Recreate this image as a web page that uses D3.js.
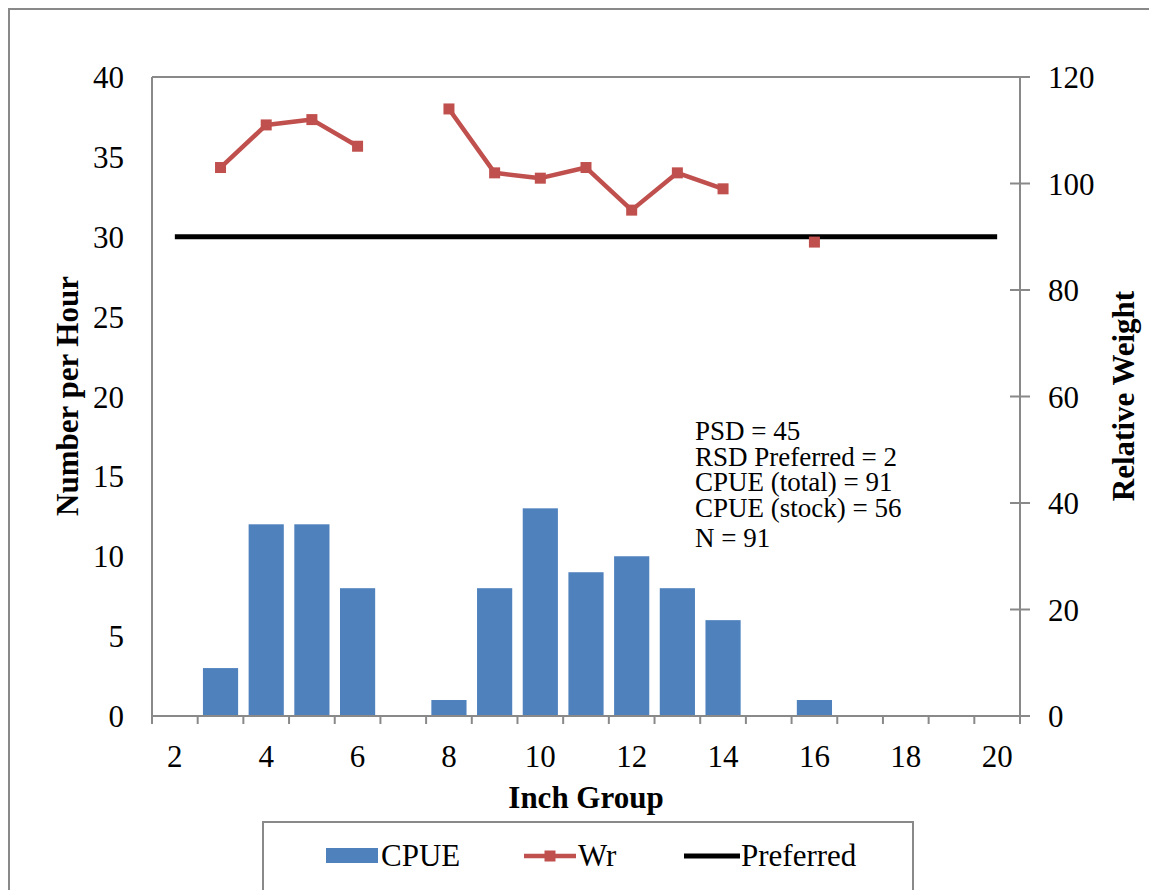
<!DOCTYPE html>
<html>
<head>
<meta charset="utf-8">
<script src="https://cdn.jsdelivr.net/npm/d3@7"></script>
<style>
  body { margin: 0; background: #fff; }
  svg { font-family: "Liberation Serif", "Times New Roman", serif; }
</style>
</head>
<body>
<div id="chart"></div>
<script>
const groups = d3.range(2, 21);
const cpue = [null, 3, 12, 12, 8, null, 1, 8, 13, 9, 10, 8, 6, null, 1, null, null, null, null];
const wr = [null, 103, 111, 112, 107, null, 114, 102, 101, 103, 95, 102, 99, null, 89, null, null, null, null];
const preferred = 30;
const leftTicks = d3.range(0, 41, 5);
const rightTicks = d3.range(0, 121, 20);
const xTickLabels = [2, 4, 6, 8, 10, 12, 14, 16, 18, 20];
const notes = ['PSD = 45', 'RSD Preferred = 2', 'CPUE (total) = 91', 'CPUE (stock) = 56', 'N = 91'];

const W = 1149, H = 890;
const pl = 152, pr = 1020, pt = 77, pb = 716;
const axisCol = '#898989', barCol = '#4F81BD', wrCol = '#C0504D';
const fs = 31;

const svg = d3.select('#chart').append('svg').attr('width', W).attr('height', H);

// outer frame
svg.append('rect').attr('x', 9).attr('y', 9).attr('width', W + 20).attr('height', H + 20)
  .attr('fill', 'none').attr('stroke', axisCol).attr('stroke-width', 2);

const x = d3.scaleBand().domain(groups).range([pl, pr]).paddingInner(0.23).paddingOuter(0.115);
const step = x.step();
const cx = g => pl + (groups.indexOf(g) + 0.5) * step;
const yL = d3.scaleLinear().domain([0, 40]).range([pb, pt]);
const yR = d3.scaleLinear().domain([0, 120]).range([pb, pt]);

// plot border: top + left + right
svg.append('line').attr('x1', pl).attr('x2', pr + 10).attr('y1', pt).attr('y2', pt).attr('stroke', axisCol).attr('stroke-width', 2);
svg.append('line').attr('x1', pl).attr('x2', pl).attr('y1', pt).attr('y2', pb).attr('stroke', axisCol).attr('stroke-width', 2);
svg.append('line').attr('x1', pr).attr('x2', pr).attr('y1', pt).attr('y2', pb + 8).attr('stroke', axisCol).attr('stroke-width', 2);

// bars
groups.forEach((g, i) => {
  if (cpue[i] == null) return;
  svg.append('rect').attr('x', x(g)).attr('y', yL(cpue[i]))
    .attr('width', x.bandwidth()).attr('height', yL(0) - yL(cpue[i])).attr('fill', barCol);
});

// x axis
svg.append('line').attr('x1', pl).attr('x2', pr).attr('y1', pb).attr('y2', pb).attr('stroke', axisCol).attr('stroke-width', 2);
d3.range(groups.length + 1).forEach(k => {
  svg.append('line').attr('x1', pl + k * step).attr('x2', pl + k * step).attr('y1', pb).attr('y2', pb + 8)
    .attr('stroke', axisCol).attr('stroke-width', 2);
});
xTickLabels.forEach(v => {
  svg.append('text').attr('x', cx(v)).attr('y', 767).attr('text-anchor', 'middle')
    .attr('font-size', fs).attr('fill', '#000').text(v);
});

// left axis labels
leftTicks.forEach(v => {
  svg.append('text').attr('x', 124).attr('y', yL(v) + 11).attr('text-anchor', 'end')
    .attr('font-size', fs).attr('fill', '#000').text(v);
});

// right axis ticks + labels
rightTicks.forEach(v => {
  svg.append('line').attr('x1', v === 120 ? pr : pr - 10).attr('x2', pr + 10).attr('y1', yR(v)).attr('y2', yR(v))
    .attr('stroke', axisCol).attr('stroke-width', 2);
  svg.append('text').attr('x', 1048).attr('y', yR(v) + 11).attr('text-anchor', 'start')
    .attr('font-size', fs).attr('fill', '#000').text(v);
});

// preferred line
svg.append('line').attr('x1', cx(2)).attr('x2', cx(20)).attr('y1', yL(preferred)).attr('y2', yL(preferred))
  .attr('stroke', '#000').attr('stroke-width', 5);

// Wr line
const wrPts = groups.map((g, i) => ({ g, v: wr[i] }));
svg.append('path').datum(wrPts)
  .attr('d', d3.line().defined(d => d.v != null).x(d => cx(d.g)).y(d => yR(d.v)))
  .attr('fill', 'none').attr('stroke', wrCol).attr('stroke-width', 4.5).attr('stroke-linejoin', 'round');
wrPts.filter(d => d.v != null).forEach(d => {
  svg.append('rect').attr('x', cx(d.g) - 5.5).attr('y', yR(d.v) - 5.5).attr('width', 11).attr('height', 11).attr('fill', wrCol);
});

// annotation
[440, 466, 491, 517, 547].forEach((yy, i) => {
  svg.append('text').attr('x', 695).attr('y', yy).attr('font-size', 27).attr('fill', '#000').text(notes[i]);
});

// axis titles
svg.append('text').attr('transform', 'translate(78,396) rotate(-90)').attr('text-anchor', 'middle')
  .attr('font-size', fs).attr('font-weight', 'bold').text('Number per Hour');
svg.append('text').attr('transform', 'translate(1134,396) rotate(-90)').attr('text-anchor', 'middle')
  .attr('font-size', fs).attr('font-weight', 'bold').text('Relative Weight');
svg.append('text').attr('x', 586).attr('y', 808).attr('text-anchor', 'middle')
  .attr('font-size', fs).attr('font-weight', 'bold').text('Inch Group');

// legend
svg.append('rect').attr('x', 263).attr('y', 822).attr('width', 650).attr('height', 100)
  .attr('fill', '#fff').attr('stroke', axisCol).attr('stroke-width', 2);
const ly = 856;
svg.append('rect').attr('x', 326).attr('y', ly - 8).attr('width', 52).attr('height', 15).attr('fill', barCol);
svg.append('text').attr('x', 381).attr('y', ly + 10).attr('font-size', fs).text('CPUE');
svg.append('line').attr('x1', 524).attr('x2', 576).attr('y1', ly).attr('y2', ly).attr('stroke', wrCol).attr('stroke-width', 4.5);
svg.append('rect').attr('x', 544.5).attr('y', ly - 5.5).attr('width', 11).attr('height', 11).attr('fill', wrCol);
svg.append('text').attr('x', 578).attr('y', ly + 10).attr('font-size', fs).text('Wr');
svg.append('line').attr('x1', 684).attr('x2', 740).attr('y1', ly).attr('y2', ly).attr('stroke', '#000').attr('stroke-width', 5);
svg.append('text').attr('x', 741).attr('y', ly + 10).attr('font-size', fs).text('Preferred');
</script>
</body>
</html>
